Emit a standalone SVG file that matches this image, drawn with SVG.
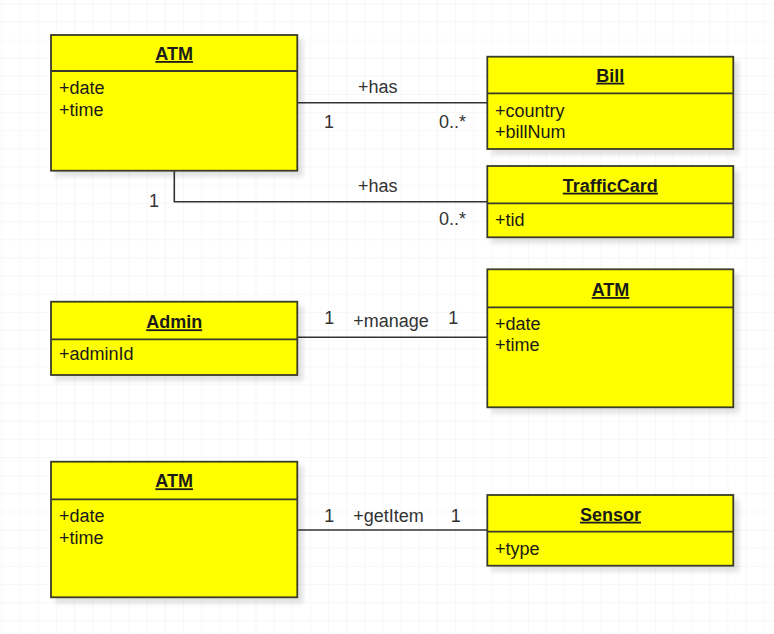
<svg xmlns="http://www.w3.org/2000/svg" width="774" height="634" viewBox="0 0 774 634">
  <defs>
    <pattern id="grid" patternUnits="userSpaceOnUse" x="1.45" y="3.3" width="18.15" height="18.15">
      <path d="M 18.15 0 L 0 0 0 18.15" fill="none" stroke="#efefef" stroke-width="1"/>
    </pattern>
    <filter id="shadow" x="-10%" y="-10%" width="130%" height="130%">
      <feGaussianBlur in="SourceAlpha" stdDeviation="2.5"/>
      <feOffset dx="5" dy="5" result="b"/>
      <feComponentTransfer><feFuncA type="linear" slope="0.12"/></feComponentTransfer>
      <feMerge><feMergeNode/><feMergeNode in="SourceGraphic"/></feMerge>
    </filter>
  </defs>
  <style>
    .box { fill: #ffff00; stroke: #3a3a2a; stroke-width: 1.8; }
    .div { stroke: #3a3a2a; stroke-width: 1.8; }
    .title { font-family: "Liberation Sans", Arial, sans-serif; font-size: 18px; font-weight: bold; fill: #1a1a1a; text-anchor: middle; text-decoration: underline; }
    .attr { font-family: "Liberation Sans", Arial, sans-serif; font-size: 18px; fill: #1a1a1a; }
    .edge { fill: none; stroke: #333333; stroke-width: 1.6; }
    .lbl { font-family: "Liberation Sans", Arial, sans-serif; font-size: 18px; fill: #333333; }
    .mid { text-anchor: middle; }
  </style>
  <rect width="774" height="634" fill="#ffffff"/>
  <rect width="774" height="634" fill="url(#grid)"/>

  <g id="connectors">
    <path class="edge" d="M 297 102.7 L 487 102.7"/>
    <path class="edge" d="M 174.3 171 L 174.3 201.7 L 487 201.7"/>
    <path class="edge" d="M 297 337.3 L 487 337.3"/>
    <path class="edge" d="M 297 530 L 487 530"/>
    <text class="lbl" x="358" y="92.7">+has</text>
    <text class="lbl mid" x="329" y="127.7">1</text>
    <text class="lbl" x="439" y="127.7">0..*</text>
    <text class="lbl" x="358" y="191.7">+has</text>
    <text class="lbl mid" x="154" y="207">1</text>
    <text class="lbl" x="439" y="225">0..*</text>
    <text class="lbl mid" x="329.3" y="324">1</text>
    <text class="lbl" x="353.3" y="327">+manage</text>
    <text class="lbl mid" x="453.3" y="324">1</text>
    <text class="lbl mid" x="329.3" y="521.7">1</text>
    <text class="lbl" x="353.3" y="521.7">+getItem</text>
    <text class="lbl mid" x="455.7" y="521.7">1</text>
  </g>

  <g id="atm1">
    <rect class="box" x="51" y="35" width="246.3" height="135.7" filter="url(#shadow)"/>
    <line class="div" x1="51" y1="71" x2="297.3" y2="71"/>
    <text class="title" x="174.2" y="60">ATM</text>
    <text class="attr" x="59" y="93.5">+date</text>
    <text class="attr" x="59" y="115.5">+time</text>
  </g>

  <g id="bill">
    <rect class="box" x="487.3" y="56.7" width="246" height="92.3" filter="url(#shadow)"/>
    <line class="div" x1="487.3" y1="93.3" x2="733.3" y2="93.3"/>
    <text class="title" x="610.3" y="81.7">Bill</text>
    <text class="attr" x="495" y="116.7">+country</text>
    <text class="attr" x="495" y="137.5">+billNum</text>
  </g>

  <g id="trafficcard">
    <rect class="box" x="487.3" y="166" width="246" height="71.3" filter="url(#shadow)"/>
    <line class="div" x1="487.3" y1="203.3" x2="733.3" y2="203.3"/>
    <text class="title" x="610.3" y="191.7">TrafficCard</text>
    <text class="attr" x="495" y="225.7">+tid</text>
  </g>

  <g id="admin">
    <rect class="box" x="51" y="301.7" width="246.3" height="73.3" filter="url(#shadow)"/>
    <line class="div" x1="51" y1="339.3" x2="297.3" y2="339.3"/>
    <text class="title" x="174.2" y="328.3">Admin</text>
    <text class="attr" x="59" y="360">+adminId</text>
  </g>

  <g id="atm2">
    <rect class="box" x="487.3" y="269.3" width="246" height="138" filter="url(#shadow)"/>
    <line class="div" x1="487.3" y1="307.3" x2="733.3" y2="307.3"/>
    <text class="title" x="610.5" y="296">ATM</text>
    <text class="attr" x="495" y="329.5">+date</text>
    <text class="attr" x="495" y="350.5">+time</text>
  </g>

  <g id="atm3">
    <rect class="box" x="51" y="461.7" width="246.3" height="135.6" filter="url(#shadow)"/>
    <line class="div" x1="51" y1="499.3" x2="297.3" y2="499.3"/>
    <text class="title" x="174.2" y="487.3">ATM</text>
    <text class="attr" x="59" y="522">+date</text>
    <text class="attr" x="59" y="543.5">+time</text>
  </g>

  <g id="sensor">
    <rect class="box" x="487.3" y="495" width="246" height="70.7" filter="url(#shadow)"/>
    <line class="div" x1="487.3" y1="531.7" x2="733.3" y2="531.7"/>
    <text class="title" x="610.5" y="520.7">Sensor</text>
    <text class="attr" x="495" y="554.5">+type</text>
  </g>
</svg>
